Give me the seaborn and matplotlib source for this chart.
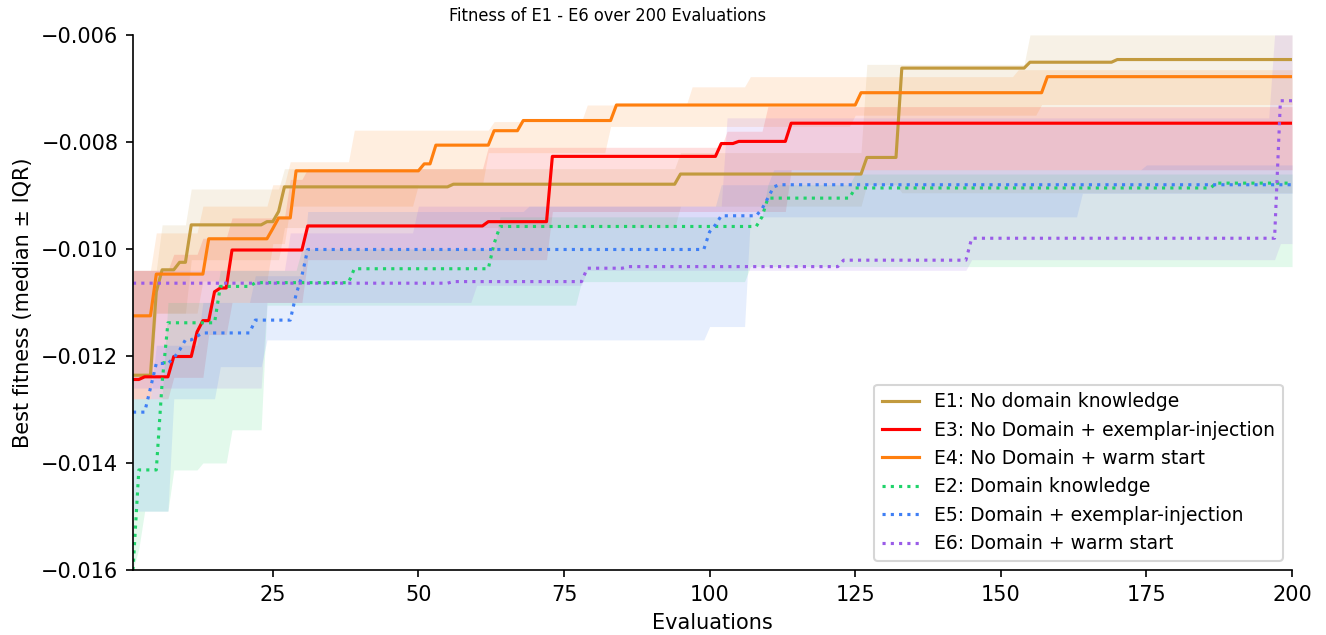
import numpy as np
import pandas as pd
import matplotlib
matplotlib.use("Agg")
import matplotlib.pyplot as plt
import seaborn as sns

evaluations = list(range(1, 201))

labels = ["E1: No domain knowledge", "E3: No Domain + exemplar-injection",
          "E4: No Domain + warm start", "E2: Domain knowledge",
          "E5: Domain + exemplar-injection", "E6: Domain + warm start"]
colors = ["#c29a3e", "#ff0000", "#ff7f0e", "#1fd36a", "#3f7ff5", "#9a5ce8"]
styles = ["-", "-", "-", ":", ":", ":"]

# (evaluation, value) where the best-so-far value changes
e1_median = [(1, -0.01236), (5, -0.0108), (6, -0.01039), (9, -0.01025), (11, -0.00955),
             (24, -0.00949), (26, -0.0093), (27, -0.00884), (56, -0.00879), (95, -0.0086),
             (127, -0.00829), (133, -0.00662), (155, -0.00651), (170, -0.00646)]
e1_q25 = [(1, -0.0128), (5, -0.0112), (11, -0.0102), (27, -0.0096), (95, -0.0092),
          (127, -0.0088), (133, -0.00895)]
e1_q75 = [(1, -0.0104), (6, -0.00955), (11, -0.00888), (27, -0.0085), (95, -0.0082),
          (127, -0.00655), (155, -0.0060)]

e3_median = [(1, -0.01244), (3, -0.01239), (8, -0.01201), (12, -0.01155), (13, -0.01134),
             (15, -0.0108), (16, -0.01073), (18, -0.01002), (31, -0.00957), (62, -0.00949),
             (73, -0.00827), (102, -0.00803), (105, -0.00799), (114, -0.00765)]
e3_q25 = [(1, -0.0128), (8, -0.0124), (14, -0.0116), (18, -0.0110), (31, -0.0102),
          (73, -0.0093), (114, -0.00852)]
e3_q75 = [(1, -0.0104), (8, -0.0101), (13, -0.0098), (18, -0.00942), (28, -0.0087),
          (31, -0.0085), (62, -0.0081), (103, -0.0078), (110, -0.00734)]

e4_median = [(1, -0.01125), (5, -0.01047), (14, -0.00981), (25, -0.00962), (26, -0.00942),
             (29, -0.00854), (51, -0.00841), (53, -0.00806), (63, -0.00779), (68, -0.0076),
             (84, -0.00731), (126, -0.00708), (158, -0.00678)]
e4_q25 = [(1, -0.0124), (5, -0.0112), (13, -0.0106), (25, -0.0099), (28, -0.0092),
          (50, -0.0088), (62, -0.0082), (83, -0.00771), (125, -0.0075), (157, -0.0073)]
e4_q75 = [(1, -0.0104), (5, -0.0097), (13, -0.0092), (25, -0.0088), (28, -0.00837),
          (39, -0.00778), (63, -0.00762), (79, -0.00731), (97, -0.00697), (107, -0.00678),
          (153, -0.00665)]

e2_median = [(1, -0.0160), (2, -0.01413), (6, -0.0125), (7, -0.01138), (16, -0.0107),
             (22, -0.01063), (39, -0.01037), (63, -0.0099), (64, -0.00958), (109, -0.0094),
             (110, -0.00905), (125, -0.00886), (187, -0.00877)]
e2_q25 = [(1, -0.0160), (2, -0.0156), (3, -0.0149), (8, -0.01413), (13, -0.0140),
          (18, -0.01338), (24, -0.01105), (78, -0.01061), (107, -0.01033)]
e2_q75 = [(1, -0.0128), (7, -0.0110), (16, -0.0104), (30, -0.0100), (64, -0.0094),
          (110, -0.0088), (125, -0.0086)]

e5_median = [(1, -0.01305), (4, -0.0126), (5, -0.01214), (8, -0.01204), (9, -0.01189),
             (10, -0.0117), (12, -0.01163), (13, -0.01157), (22, -0.01133), (29, -0.01085),
             (30, -0.0105), (31, -0.01001), (100, -0.00968), (101, -0.00955), (102, -0.00938),
             (109, -0.00925), (110, -0.00905), (111, -0.00884), (112, -0.0088)]
e5_q25 = [(1, -0.0149), (8, -0.0128), (16, -0.0122), (24, -0.0117), (100, -0.01145),
          (107, -0.0094), (164, -0.00896)]
e5_q75 = [(1, -0.0128), (5, -0.0118), (13, -0.0110), (22, -0.0105), (31, -0.0093),
          (69, -0.0092), (102, -0.0088), (111, -0.00852), (175, -0.00843)]

e6_median = [(1, -0.01064), (56, -0.01061), (79, -0.01036), (86, -0.01033), (123, -0.01021),
             (145, -0.0098), (198, -0.00723)]
e6_q25 = [(1, -0.0126), (24, -0.0110), (60, -0.01068), (79, -0.0104), (145, -0.0102),
          (198, -0.0099)]
e6_q75 = [(1, -0.0104), (28, -0.0097), (50, -0.0092), (103, -0.00755), (197, -0.0060)]

series = [(e1_median, e1_q25, e1_q75), (e3_median, e3_q25, e3_q75),
          (e4_median, e4_q25, e4_q75), (e2_median, e2_q25, e2_q75),
          (e5_median, e5_q25, e5_q75), (e6_median, e6_q25, e6_q75)]


def per_eval(points):
    # best-so-far values hold until the next improvement
    s = pd.Series(dict(points)).reindex(evaluations).ffill()
    return s.to_numpy()


plt.rcParams["font.family"] = ["DejaVu Sans"]
plt.rcParams["font.size"] = 10

fig, ax = plt.subplots(figsize=(1326 / 150, 635 / 150), dpi=150)
fig.subplots_adjust(left=0.1003, right=0.9744, top=0.945, bottom=0.1024)

for (med, lo, hi), lab, col, ls in zip(series, labels, colors, styles):
    ax.fill_between(evaluations, per_eval(lo), per_eval(hi), color=col, alpha=0.13, lw=0)
    sns.lineplot(x=evaluations, y=per_eval(med), ax=ax, color=col, linestyle=ls,
                 linewidth=1.5, label=lab)

ax.set_xlim(1, 200)
ax.set_ylim(-0.016, -0.006)
ax.set_yticks(np.arange(-0.016, -0.0059, 0.002))
ax.set_xlabel("Evaluations")
ax.set_ylabel("Best fitness (median \u00b1 IQR)")
sns.despine(ax=ax)
ax.legend(loc="lower right", fontsize=9)

fig.text(0.4585, 0.975, "Fitness of E1 - E6 over 200 Evaluations", ha="center", va="center",
         fontsize=8.7, fontstretch="condensed")

fig.savefig("out.png", dpi=150)
